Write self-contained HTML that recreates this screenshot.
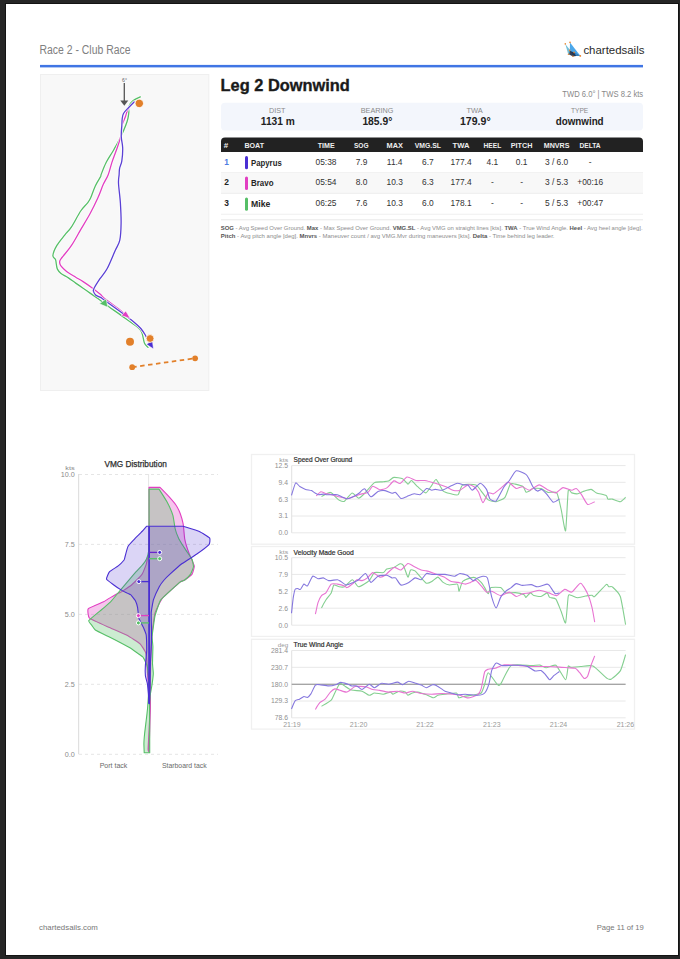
<!DOCTYPE html><html><head><meta charset="utf-8"><title>Race 2 - Club Race</title><style>
*{margin:0;padding:0;box-sizing:border-box}
html,body{width:680px;height:959px;overflow:hidden;background:#262626}
body{position:relative}
.page{position:absolute;left:6px;top:4px;width:672px;height:951px;background:#fff;box-shadow:0 0 0 1px #131313}
svg{position:absolute;left:0;top:0;font-family:"Liberation Sans",sans-serif}
</style></head><body>
<div class="page"></div>
<svg width="680" height="959" viewBox="0 0 680 959">
<text x="39.52" y="53.60" font-size="12" fill="#808080" font-weight="normal" textLength="90.96" lengthAdjust="spacingAndGlyphs">Race 2 - Club Race</text>
<rect x="40" y="64.9" width="603" height="2.5" fill="#4075e4"/>
<text x="583.40" y="53.60" font-size="10" fill="#2a2a2a" font-weight="normal" textLength="61.00" lengthAdjust="spacingAndGlyphs">chartedsails</text>
<g>
<polygon points="565.3,43.9 570.6,50.8 569.6,55 568.3,54.4" fill="#74bfd8"/>
<polygon points="570,42.4 580.5,56 573.5,55.8 569.8,50.5" fill="#4ba7ea"/>
<polygon points="569.8,50.8 574.1,52.4 579.5,55.6 572.9,56.4 569.2,54.5" fill="#1e2b45" opacity="0.9"/>
<polygon points="574.1,52.4 580.5,56 576,55.8" fill="#3a8ed0"/>
<g fill="#e9852f">
<circle cx="565.3" cy="43.9" r="0.8"/><circle cx="570" cy="42.4" r="0.8"/><circle cx="569.7" cy="50.4" r="0.8"/>
<circle cx="574.1" cy="52.4" r="0.8"/><circle cx="568.5" cy="54.2" r="0.8"/><circle cx="572.9" cy="56.2" r="0.8"/><circle cx="580.3" cy="55.9" r="0.9"/>
</g></g>
<rect x="40.5" y="74.5" width="168.3" height="316" fill="#f8f8f8" stroke="#efefef" stroke-width="1"/>
<text x="122.10" y="81.60" font-size="5" fill="#666" font-weight="normal" textLength="4.90" lengthAdjust="spacingAndGlyphs">6°</text>
<line x1="124.3" y1="83" x2="124.3" y2="102" stroke="#555" stroke-width="1.3"/>
<polygon points="120.3,100.5 128.3,100.5 124.3,105.8" fill="#555"/>
<path d="M140.3,96.9 C139.0,97.6 134.3,99.6 132.4,101.2 C130.5,102.8 129.4,104.6 128.8,106.5 C128.2,108.4 129.1,110.2 128.8,112.7 C128.5,115.2 128.4,117.5 127.1,121.5 C125.8,125.5 123.1,131.8 120.9,136.5 C118.7,141.2 116.3,145.3 113.8,149.7 C111.3,154.1 108.0,158.8 105.9,163.0 C103.8,167.2 101.9,172.6 101.0,174.9 C100.1,177.2 101.5,174.8 100.6,176.6 C99.6,178.4 96.9,182.4 95.3,185.9 C93.7,189.4 92.0,194.9 90.7,197.8 C89.4,200.7 89.1,200.9 87.4,203.1 C85.7,205.3 83.4,207.0 80.7,211.0 C78.0,215.0 74.1,222.9 71.5,226.9 C68.9,230.9 67.3,231.7 64.9,234.8 C62.5,237.9 58.9,242.0 56.9,245.4 C54.9,248.8 53.1,253.1 52.9,255.5 C52.7,257.9 54.9,258.2 55.5,259.6 C56.1,261.0 56.0,262.4 56.3,264.0 C56.6,265.6 56.6,267.5 57.4,269.1 C58.2,270.7 59.2,272.0 61.0,273.5 C62.8,275.0 66.0,276.3 68.4,277.9 C70.9,279.5 73.2,281.4 75.7,283.1 C78.2,284.8 80.6,286.5 83.1,288.2 C85.5,289.9 88.0,291.7 90.4,293.4 C92.9,295.1 94.8,296.4 97.8,298.5 C100.8,300.6 104.2,303.4 108.2,306.3 C112.2,309.2 116.6,312.1 121.5,315.6 C126.4,319.1 134.0,324.3 137.4,327.1 C140.8,329.9 140.6,329.8 141.8,332.4 C143.0,335.0 143.4,340.5 144.4,343.0 C145.4,345.5 147.4,346.7 148.0,347.4" fill="none" stroke="#fff" stroke-width="2.6" stroke-linejoin="round" stroke-linecap="round" opacity="0.9"/>
<path d="M140.3,96.9 C139.0,97.6 134.3,99.6 132.4,101.2 C130.5,102.8 129.4,104.6 128.8,106.5 C128.2,108.4 129.1,110.2 128.8,112.7 C128.5,115.2 128.4,117.5 127.1,121.5 C125.8,125.5 123.1,131.8 120.9,136.5 C118.7,141.2 116.3,145.3 113.8,149.7 C111.3,154.1 108.0,158.8 105.9,163.0 C103.8,167.2 101.9,172.6 101.0,174.9 C100.1,177.2 101.5,174.8 100.6,176.6 C99.6,178.4 96.9,182.4 95.3,185.9 C93.7,189.4 92.0,194.9 90.7,197.8 C89.4,200.7 89.1,200.9 87.4,203.1 C85.7,205.3 83.4,207.0 80.7,211.0 C78.0,215.0 74.1,222.9 71.5,226.9 C68.9,230.9 67.3,231.7 64.9,234.8 C62.5,237.9 58.9,242.0 56.9,245.4 C54.9,248.8 53.1,253.1 52.9,255.5 C52.7,257.9 54.9,258.2 55.5,259.6 C56.1,261.0 56.0,262.4 56.3,264.0 C56.6,265.6 56.6,267.5 57.4,269.1 C58.2,270.7 59.2,272.0 61.0,273.5 C62.8,275.0 66.0,276.3 68.4,277.9 C70.9,279.5 73.2,281.4 75.7,283.1 C78.2,284.8 80.6,286.5 83.1,288.2 C85.5,289.9 88.0,291.7 90.4,293.4 C92.9,295.1 94.8,296.4 97.8,298.5 C100.8,300.6 104.2,303.4 108.2,306.3 C112.2,309.2 116.6,312.1 121.5,315.6 C126.4,319.1 134.0,324.3 137.4,327.1 C140.8,329.9 140.6,329.8 141.8,332.4 C143.0,335.0 143.4,340.5 144.4,343.0 C145.4,345.5 147.4,346.7 148.0,347.4" fill="none" stroke="#56bf67" stroke-width="1.3" stroke-linejoin="round" stroke-linecap="round"/>
<path d="M134.1,102.0 C133.1,103.2 129.5,106.6 128.0,109.1 C126.5,111.6 126.3,114.2 125.3,117.0 C124.3,119.8 122.6,122.5 121.8,125.9 C121.0,129.3 121.4,133.4 120.5,137.4 C119.6,141.4 117.9,145.6 116.5,149.7 C115.1,153.8 113.4,157.9 112.0,162.1 C110.6,166.3 109.6,171.2 108.1,174.9 C106.6,178.7 104.9,180.8 103.2,184.6 C101.5,188.4 100.1,193.0 97.9,197.8 C95.7,202.7 92.9,208.4 90.0,213.7 C87.1,219.0 83.8,224.3 80.7,229.6 C77.6,234.9 74.6,240.8 71.5,245.4 C68.4,250.1 64.0,254.9 62.0,257.5 C60.0,260.1 60.1,259.8 59.8,261.0 C59.5,262.2 59.7,263.6 60.2,264.8 C60.7,266.0 61.4,266.7 62.8,268.0 C64.2,269.3 66.2,271.3 68.4,272.8 C70.6,274.3 73.2,275.7 75.7,277.2 C78.2,278.7 80.3,279.8 83.1,281.6 C85.9,283.4 89.8,286.1 92.6,288.2 C95.4,290.3 97.8,292.2 100.0,294.1 C102.2,296.0 102.0,296.5 105.6,299.3 C109.2,302.1 118.1,308.5 121.5,311.2 C124.9,313.9 123.7,313.7 125.9,315.6 C128.1,317.5 132.2,320.6 134.7,322.7 C137.2,324.8 139.1,326.5 140.8,328.5 C142.5,330.5 144.3,333.5 145.0,334.5" fill="none" stroke="#fff" stroke-width="2.6" stroke-linejoin="round" stroke-linecap="round" opacity="0.9"/>
<path d="M134.1,102.0 C133.1,103.2 129.5,106.6 128.0,109.1 C126.5,111.6 126.3,114.2 125.3,117.0 C124.3,119.8 122.6,122.5 121.8,125.9 C121.0,129.3 121.4,133.4 120.5,137.4 C119.6,141.4 117.9,145.6 116.5,149.7 C115.1,153.8 113.4,157.9 112.0,162.1 C110.6,166.3 109.6,171.2 108.1,174.9 C106.6,178.7 104.9,180.8 103.2,184.6 C101.5,188.4 100.1,193.0 97.9,197.8 C95.7,202.7 92.9,208.4 90.0,213.7 C87.1,219.0 83.8,224.3 80.7,229.6 C77.6,234.9 74.6,240.8 71.5,245.4 C68.4,250.1 64.0,254.9 62.0,257.5 C60.0,260.1 60.1,259.8 59.8,261.0 C59.5,262.2 59.7,263.6 60.2,264.8 C60.7,266.0 61.4,266.7 62.8,268.0 C64.2,269.3 66.2,271.3 68.4,272.8 C70.6,274.3 73.2,275.7 75.7,277.2 C78.2,278.7 80.3,279.8 83.1,281.6 C85.9,283.4 89.8,286.1 92.6,288.2 C95.4,290.3 97.8,292.2 100.0,294.1 C102.2,296.0 102.0,296.5 105.6,299.3 C109.2,302.1 118.1,308.5 121.5,311.2 C124.9,313.9 123.7,313.7 125.9,315.6 C128.1,317.5 132.2,320.6 134.7,322.7 C137.2,324.8 139.1,326.5 140.8,328.5 C142.5,330.5 144.3,333.5 145.0,334.5" fill="none" stroke="#e23fc2" stroke-width="1.3" stroke-linejoin="round" stroke-linecap="round"/>
<path d="M134.1,102.0 C133.1,103.0 129.8,106.3 128.0,108.2 C126.2,110.1 124.5,111.7 123.5,113.5 C122.5,115.3 122.5,116.7 122.2,118.8 C121.9,120.9 122.0,122.8 121.8,125.9 C121.6,129.0 121.1,133.7 121.3,137.4 C121.5,141.1 122.6,144.0 122.7,148.0 C122.8,152.0 122.3,157.8 121.8,161.2 C121.3,164.6 120.0,166.0 119.6,168.3 C119.1,170.6 119.3,172.4 119.1,174.9 C118.9,177.4 118.3,178.5 118.5,183.2 C118.7,187.9 120.0,196.5 120.4,203.1 C120.8,209.7 121.2,216.7 121.1,222.9 C121.0,229.1 120.8,235.5 119.8,240.1 C118.8,244.7 117.2,246.0 115.1,250.7 C113.0,255.4 109.7,263.8 107.2,268.5 C104.7,273.2 102.2,275.4 100.0,278.7 C97.8,282.0 95.2,286.1 94.1,288.2 C93.0,290.3 93.2,290.1 93.4,291.2 C93.7,292.3 94.5,293.9 95.6,294.9 C96.7,295.9 98.6,296.3 100.0,297.1 C101.4,297.9 100.2,297.1 103.8,299.7 C107.4,302.3 116.3,308.7 121.5,312.5 C126.7,316.3 131.5,320.0 134.7,322.7 C137.9,325.4 139.0,326.4 140.8,328.5 C142.6,330.6 144.2,333.2 145.3,335.0 C146.4,336.8 147.1,338.8 147.5,339.5" fill="none" stroke="#fff" stroke-width="2.6" stroke-linejoin="round" stroke-linecap="round" opacity="0.9"/>
<path d="M134.1,102.0 C133.1,103.0 129.8,106.3 128.0,108.2 C126.2,110.1 124.5,111.7 123.5,113.5 C122.5,115.3 122.5,116.7 122.2,118.8 C121.9,120.9 122.0,122.8 121.8,125.9 C121.6,129.0 121.1,133.7 121.3,137.4 C121.5,141.1 122.6,144.0 122.7,148.0 C122.8,152.0 122.3,157.8 121.8,161.2 C121.3,164.6 120.0,166.0 119.6,168.3 C119.1,170.6 119.3,172.4 119.1,174.9 C118.9,177.4 118.3,178.5 118.5,183.2 C118.7,187.9 120.0,196.5 120.4,203.1 C120.8,209.7 121.2,216.7 121.1,222.9 C121.0,229.1 120.8,235.5 119.8,240.1 C118.8,244.7 117.2,246.0 115.1,250.7 C113.0,255.4 109.7,263.8 107.2,268.5 C104.7,273.2 102.2,275.4 100.0,278.7 C97.8,282.0 95.2,286.1 94.1,288.2 C93.0,290.3 93.2,290.1 93.4,291.2 C93.7,292.3 94.5,293.9 95.6,294.9 C96.7,295.9 98.6,296.3 100.0,297.1 C101.4,297.9 100.2,297.1 103.8,299.7 C107.4,302.3 116.3,308.7 121.5,312.5 C126.7,316.3 131.5,320.0 134.7,322.7 C137.9,325.4 139.0,326.4 140.8,328.5 C142.6,330.6 144.2,333.2 145.3,335.0 C146.4,336.8 147.1,338.8 147.5,339.5" fill="none" stroke="#5a40d4" stroke-width="1.3" stroke-linejoin="round" stroke-linecap="round"/>
<polygon points="99.4,303.8 106.2,298.8 107.8,307.3" fill="#56bf67" stroke="#fff" stroke-width="0.6"/>
<polygon points="121.4,315.6 125.8,310.9 130.3,318.6" fill="#e23fc2" stroke="#fff" stroke-width="0.6"/>
<polygon points="146.4,344.3 152.4,340.4 153.5,349.0" fill="#4a2fd3" stroke="#fff" stroke-width="0.6"/>
<circle cx="139.3" cy="103.4" r="4.2" fill="#e2802a" stroke="#fff" stroke-width="0.8"/>
<circle cx="150.1" cy="338.5" r="3.9" fill="#e2802a" stroke="#fff" stroke-width="0.8"/>
<circle cx="130" cy="341.8" r="4" fill="#e2802a"/>
<line x1="132.2" y1="367.2" x2="195.1" y2="358.3" stroke="#e2802a" stroke-width="1.8" stroke-dasharray="4.5,3.5"/>
<circle cx="132.2" cy="367.2" r="2.9" fill="#e2802a"/>
<circle cx="195.1" cy="358.3" r="2.9" fill="#e2802a"/>
<text stroke="#1a1a1a" stroke-width="0.35" x="220.54" y="90.60" font-size="16.4" fill="#1a1a1a" font-weight="bold" textLength="129.31" lengthAdjust="spacingAndGlyphs">Leg 2 Downwind</text>
<text x="562.35" y="96.80" font-size="8.8" fill="#888" font-weight="normal" textLength="80.80" lengthAdjust="spacingAndGlyphs">TWD 6.0° | TWS 8.2 kts</text>
<rect x="221" y="102.8" width="422" height="27.6" rx="4" fill="#f3f6fc"/>
<text x="269.10" y="112.60" font-size="7.4" fill="#8a8a8a" font-weight="normal" textLength="16.44" lengthAdjust="spacingAndGlyphs">DIST</text>
<text x="260.84" y="125.20" font-size="10.3" fill="#222" font-weight="bold" textLength="33.97" lengthAdjust="spacingAndGlyphs">1131 m</text>
<text x="360.70" y="112.60" font-size="7.4" fill="#8a8a8a" font-weight="normal" textLength="32.69" lengthAdjust="spacingAndGlyphs">BEARING</text>
<text x="362.39" y="125.20" font-size="10.3" fill="#222" font-weight="bold" textLength="29.92" lengthAdjust="spacingAndGlyphs">185.9°</text>
<text x="466.50" y="112.60" font-size="7.4" fill="#8a8a8a" font-weight="normal" textLength="16.29" lengthAdjust="spacingAndGlyphs">TWA</text>
<text x="459.99" y="125.20" font-size="10.3" fill="#222" font-weight="bold" textLength="30.62" lengthAdjust="spacingAndGlyphs">179.9°</text>
<text x="571.00" y="112.60" font-size="7.4" fill="#8a8a8a" font-weight="normal" textLength="17.29" lengthAdjust="spacingAndGlyphs">TYPE</text>
<text x="555.69" y="125.20" font-size="10.3" fill="#222" font-weight="bold" textLength="47.92" lengthAdjust="spacingAndGlyphs">downwind</text>
<path d="M221,152 L221,141.5 Q221,137.5 225,137.5 L639,137.5 Q643,137.5 643,141.5 L643,152 Z" fill="#222"/>
<text x="223.83" y="147.50" font-size="6.8" fill="#eeeeee" font-weight="bold" textLength="4.44" lengthAdjust="spacingAndGlyphs">#</text>
<text x="244.43" y="147.50" font-size="6.8" fill="#eeeeee" font-weight="bold" textLength="19.64" lengthAdjust="spacingAndGlyphs">BOAT</text>
<text x="317.73" y="147.50" font-size="6.8" fill="#eeeeee" font-weight="bold" textLength="16.94" lengthAdjust="spacingAndGlyphs">TIME</text>
<text x="353.93" y="147.50" font-size="6.8" fill="#eeeeee" font-weight="bold" textLength="14.64" lengthAdjust="spacingAndGlyphs">SOG</text>
<text x="386.53" y="147.50" font-size="6.8" fill="#eeeeee" font-weight="bold" textLength="16.34" lengthAdjust="spacingAndGlyphs">MAX</text>
<text x="414.73" y="147.50" font-size="6.8" fill="#eeeeee" font-weight="bold" textLength="26.24" lengthAdjust="spacingAndGlyphs">VMG.SL</text>
<text x="452.63" y="147.50" font-size="6.8" fill="#eeeeee" font-weight="bold" textLength="16.94" lengthAdjust="spacingAndGlyphs">TWA</text>
<text x="483.53" y="147.50" font-size="6.8" fill="#eeeeee" font-weight="bold" textLength="17.74" lengthAdjust="spacingAndGlyphs">HEEL</text>
<text x="510.73" y="147.50" font-size="6.8" fill="#eeeeee" font-weight="bold" textLength="21.74" lengthAdjust="spacingAndGlyphs">PITCH</text>
<text x="543.73" y="147.50" font-size="6.8" fill="#eeeeee" font-weight="bold" textLength="25.74" lengthAdjust="spacingAndGlyphs">MNVRS</text>
<text x="579.53" y="147.50" font-size="6.8" fill="#eeeeee" font-weight="bold" textLength="21.14" lengthAdjust="spacingAndGlyphs">DELTA</text>
<rect x="221" y="172.2" width="422" height="0.8" fill="#ececec"/>
<text x="224.3" y="164.5" font-size="8.4" fill="#4d7de3" font-weight="bold">1</text>
<rect x="245" y="155.9" width="3" height="13.3" rx="1.5" fill="#4a2fd3"/>
<text x="251.06" y="165.50" font-size="8.4" fill="#262626" font-weight="bold" textLength="30.67" lengthAdjust="spacingAndGlyphs">Papyrus</text>
<text x="326" y="164.5" font-size="8.4" fill="#333" text-anchor="middle">05:38</text>
<text x="361.5" y="164.5" font-size="8.4" fill="#333" text-anchor="middle">7.9</text>
<text x="394.7" y="164.5" font-size="8.4" fill="#333" text-anchor="middle">11.4</text>
<text x="427.9" y="164.5" font-size="8.4" fill="#333" text-anchor="middle">6.7</text>
<text x="461.1" y="164.5" font-size="8.4" fill="#333" text-anchor="middle">177.4</text>
<text x="492.4" y="164.5" font-size="8.4" fill="#333" text-anchor="middle">4.1</text>
<text x="521.6" y="164.5" font-size="8.4" fill="#333" text-anchor="middle">0.1</text>
<text x="556.6" y="164.5" font-size="8.4" fill="#333" text-anchor="middle">3 / 6.0</text>
<text x="590.2" y="164.5" font-size="8.4" fill="#333" text-anchor="middle">-</text>
<rect x="221" y="172.7" width="422" height="20.9" fill="#f8f8f8"/>
<rect x="221" y="192.9" width="422" height="0.8" fill="#ececec"/>
<text x="224.3" y="184.9" font-size="8.4" fill="#222" font-weight="bold">2</text>
<rect x="245" y="176.6" width="3" height="13.3" rx="1.5" fill="#e23fc2"/>
<text x="251.06" y="185.90" font-size="8.4" fill="#262626" font-weight="bold" textLength="22.47" lengthAdjust="spacingAndGlyphs">Bravo</text>
<text x="326" y="184.9" font-size="8.4" fill="#333" text-anchor="middle">05:54</text>
<text x="361.5" y="184.9" font-size="8.4" fill="#333" text-anchor="middle">8.0</text>
<text x="394.7" y="184.9" font-size="8.4" fill="#333" text-anchor="middle">10.3</text>
<text x="427.9" y="184.9" font-size="8.4" fill="#333" text-anchor="middle">6.3</text>
<text x="461.1" y="184.9" font-size="8.4" fill="#333" text-anchor="middle">177.4</text>
<text x="492.4" y="184.9" font-size="8.4" fill="#333" text-anchor="middle">-</text>
<text x="521.6" y="184.9" font-size="8.4" fill="#333" text-anchor="middle">-</text>
<text x="556.6" y="184.9" font-size="8.4" fill="#333" text-anchor="middle">3 / 5.3</text>
<text x="590.2" y="184.9" font-size="8.4" fill="#333" text-anchor="middle">+00:16</text>
<rect x="221" y="213.8" width="422" height="0.8" fill="#ececec"/>
<text x="224.3" y="205.9" font-size="8.4" fill="#222" font-weight="bold">3</text>
<rect x="245" y="197.5" width="3" height="13.3" rx="1.5" fill="#56bf67"/>
<text x="251.06" y="206.90" font-size="8.4" fill="#262626" font-weight="bold" textLength="19.27" lengthAdjust="spacingAndGlyphs">Mike</text>
<text x="326" y="205.9" font-size="8.4" fill="#333" text-anchor="middle">06:25</text>
<text x="361.5" y="205.9" font-size="8.4" fill="#333" text-anchor="middle">7.6</text>
<text x="394.7" y="205.9" font-size="8.4" fill="#333" text-anchor="middle">10.3</text>
<text x="427.9" y="205.9" font-size="8.4" fill="#333" text-anchor="middle">6.0</text>
<text x="461.1" y="205.9" font-size="8.4" fill="#333" text-anchor="middle">178.1</text>
<text x="492.4" y="205.9" font-size="8.4" fill="#333" text-anchor="middle">-</text>
<text x="521.6" y="205.9" font-size="8.4" fill="#333" text-anchor="middle">-</text>
<text x="556.6" y="205.9" font-size="8.4" fill="#333" text-anchor="middle">5 / 5.3</text>
<text x="590.2" y="205.9" font-size="8.4" fill="#333" text-anchor="middle">+00:47</text>
<rect x="221" y="219.3" width="422" height="1" fill="#e8e8e8"/>
<text x="220.76" y="229.50" font-size="6.1" fill="#8c8c8c" font-weight="normal" textLength="421.79" lengthAdjust="spacingAndGlyphs"><tspan font-weight="bold" fill="#555">SOG</tspan> - Avg Speed Over Ground. <tspan font-weight="bold" fill="#555">Max</tspan> - Max Speed Over Ground. <tspan font-weight="bold" fill="#555">VMG.SL</tspan> - Avg VMG on straight lines [kts]. <tspan font-weight="bold" fill="#555">TWA</tspan> - True Wind Angle. <tspan font-weight="bold" fill="#555">Heel</tspan> - Avg heel angle [deg].</text>
<text x="220.76" y="237.60" font-size="6.1" fill="#8c8c8c" font-weight="normal" textLength="333.79" lengthAdjust="spacingAndGlyphs"><tspan font-weight="bold" fill="#555">Pitch</tspan> - Avg pitch angle [deg]. <tspan font-weight="bold" fill="#555">Mnvrs</tspan> - Maneuver count / avg VMG.Mvr during maneuvers [kts]. <tspan font-weight="bold" fill="#555">Delta</tspan> - Time behind leg leader.</text>
<text stroke="#2e2e2e" stroke-width="0.25" x="104.46" y="467.00" font-size="8.5" fill="#2e2e2e" font-weight="normal" textLength="62.38" lengthAdjust="spacingAndGlyphs">VMG Distribution</text>
<text x="65.37" y="469.60" font-size="5.8" fill="#888" font-weight="normal" textLength="9.46" lengthAdjust="spacingAndGlyphs">kts</text>
<line x1="79" y1="754.3" x2="218" y2="754.3" stroke="#e2e2e2" stroke-width="0.9" stroke-dasharray="3,3"/>
<text x="74.8" y="756.8" font-size="7.2" fill="#8a8a8a" text-anchor="end">0.0</text>
<line x1="79" y1="684.3" x2="218" y2="684.3" stroke="#e2e2e2" stroke-width="0.9" stroke-dasharray="3,3"/>
<text x="74.8" y="686.8" font-size="7.2" fill="#8a8a8a" text-anchor="end">2.5</text>
<line x1="79" y1="614.4" x2="218" y2="614.4" stroke="#e2e2e2" stroke-width="0.9" stroke-dasharray="3,3"/>
<text x="74.8" y="616.9" font-size="7.2" fill="#8a8a8a" text-anchor="end">5.0</text>
<line x1="79" y1="544.4" x2="218" y2="544.4" stroke="#e2e2e2" stroke-width="0.9" stroke-dasharray="3,3"/>
<text x="74.8" y="546.9" font-size="7.2" fill="#8a8a8a" text-anchor="end">7.5</text>
<line x1="79" y1="474.5" x2="218" y2="474.5" stroke="#e2e2e2" stroke-width="0.9" stroke-dasharray="3,3"/>
<text x="74.8" y="477.0" font-size="7.2" fill="#8a8a8a" text-anchor="end">10.0</text>
<line x1="78.6" y1="474" x2="78.6" y2="754.3" stroke="#e0e0e0" stroke-width="1.2"/>
<line x1="148.6" y1="474" x2="148.6" y2="488" stroke="#ddd" stroke-width="0.8"/>
<text x="99.71" y="767.60" font-size="7.2" fill="#6a6a6a" font-weight="normal" textLength="27.58" lengthAdjust="spacingAndGlyphs">Port tack</text>
<text x="161.91" y="767.60" font-size="7.2" fill="#6a6a6a" font-weight="normal" textLength="44.78" lengthAdjust="spacingAndGlyphs">Starboard tack</text>
<path d="M149.0,752.0 C148.9,751.8 148.0,751.3 148.1,748.8 C148.2,746.2 150.0,712.8 150.0,709.0 C150.0,705.2 148.4,686.3 148.3,684.2 C148.2,682.1 147.6,674.7 147.5,673.3 C147.4,671.9 146.8,661.2 146.7,660.0 C146.6,658.8 145.8,652.9 145.4,652.0 C145.0,651.1 141.1,644.7 140.0,643.8 C138.9,642.8 128.8,636.2 127.0,635.3 C125.2,634.4 111.6,628.6 109.4,627.6 C107.2,626.6 90.6,619.3 89.4,618.2 C88.2,617.1 87.4,609.8 88.2,608.8 C89.0,607.8 101.9,602.6 103.5,601.8 C105.1,601.0 114.2,595.3 115.3,594.7 C116.4,594.1 121.5,591.8 122.4,591.2 C123.3,590.6 130.4,586.0 131.5,585.0 C132.6,584.0 140.9,575.9 141.8,574.7 C142.7,573.5 145.8,565.5 146.2,564.4 C146.6,563.3 147.7,557.2 147.9,556.5 C148.1,555.8 148.9,556.0 149.0,552.0 C149.1,548.0 149.0,491.2 149.0,487.4 L160.0,487.4 C160.5,487.9 167.6,495.2 168.5,496.2 C169.4,497.2 175.2,504.0 175.9,505.0 C176.6,506.0 179.9,512.7 180.3,513.8 C180.7,514.9 182.9,522.6 183.2,524.1 C183.5,525.6 184.4,537.1 184.7,538.8 C185.0,540.5 188.5,551.9 189.1,553.5 C189.7,555.1 194.1,564.8 194.3,566.0 C194.5,567.2 192.7,573.3 192.1,574.1 C191.5,574.9 185.4,579.5 184.7,580.0 C184.0,580.5 181.3,581.0 180.0,582.1 C178.7,583.2 163.9,596.4 162.4,598.2 C160.9,600.0 155.6,610.8 155.0,612.9 C154.4,615.0 152.3,630.8 152.1,633.5 C151.9,636.2 150.9,656.0 150.8,659.2 C150.7,662.4 150.4,685.4 150.4,688.3 C150.4,691.2 150.5,705.3 150.4,709.0 C150.3,712.7 149.1,749.5 149.0,752.0 Z" fill="rgba(226,63,194,0.3)" stroke="#e23fc2" stroke-width="1.1" stroke-linejoin="round"/>
<path d="M149.7,752.8 L144.2,752.8 C144.2,752.3 143.9,745.1 143.9,744.0 C143.9,742.9 144.4,735.8 144.6,733.8 C144.8,731.7 147.3,711.7 147.5,709.0 C147.7,706.3 148.8,690.7 148.8,688.3 C148.8,685.9 147.7,669.0 147.5,667.5 C147.3,666.0 146.1,663.1 145.8,662.5 C145.5,661.9 143.5,657.6 142.5,656.7 C141.5,655.8 131.3,648.7 129.4,647.6 C127.5,646.5 111.4,638.0 109.4,637.0 C107.4,636.0 96.3,630.7 95.3,630.0 C94.3,629.3 92.2,625.8 91.8,625.3 C91.4,624.8 88.3,621.5 88.8,620.6 C89.3,619.7 99.9,611.1 101.2,610.0 C102.5,608.9 109.5,602.9 110.6,601.8 C111.7,600.7 118.5,592.4 120.0,590.6 C121.5,588.9 134.6,573.2 135.9,571.8 C137.2,570.4 140.9,566.7 141.5,566.0 C142.1,565.3 146.1,559.9 146.5,559.0 C146.9,558.1 148.6,551.7 148.7,550.6 C148.8,549.5 149.0,543.6 149.0,540.0 C149.0,536.4 149.0,492.1 149.0,489.1 L159.0,489.1 C159.5,489.9 166.3,500.5 167.1,502.0 C167.9,503.5 172.4,513.8 172.9,515.3 C173.4,516.8 174.8,527.1 175.1,528.5 C175.4,529.9 178.2,537.5 178.8,538.8 C179.4,540.1 185.4,549.4 186.2,550.6 C187.0,551.8 191.7,558.5 192.1,559.4 C192.5,560.3 193.6,565.9 193.5,566.8 C193.4,567.7 191.1,573.3 190.6,574.1 C190.1,574.9 185.3,579.5 184.7,580.0 C184.1,580.5 181.4,581.0 180.0,582.1 C178.6,583.2 162.4,597.7 160.9,599.7 C159.4,601.7 155.5,613.8 155.0,615.9 C154.5,618.0 152.2,634.7 152.1,636.5 C152.0,638.3 152.9,645.1 152.9,646.7 C152.9,648.3 152.5,661.7 152.5,663.3 C152.5,664.9 153.3,672.1 153.3,673.3 C153.3,674.5 152.3,682.8 152.1,684.2 C151.9,685.6 150.1,695.3 150.0,696.7 C149.9,698.1 149.6,707.1 149.6,709.0 C149.6,710.9 149.7,727.4 149.7,730.0 C149.7,732.6 149.7,751.5 149.7,752.8 Z" fill="rgba(86,191,103,0.3)" stroke="#56bf67" stroke-width="1.1" stroke-linejoin="round"/>
<path d="M149.2,703.8 C149.1,702.6 147.7,685.8 147.5,684.2 C147.3,682.6 145.5,676.9 145.4,675.8 C145.3,674.7 145.3,666.5 145.4,665.0 C145.5,663.5 146.7,652.5 146.7,650.8 C146.7,649.0 146.4,636.4 146.2,635.0 C146.1,633.6 143.9,628.6 143.5,627.6 C143.1,626.6 139.1,619.4 138.8,618.2 C138.5,617.0 137.8,608.6 137.6,607.6 C137.4,606.6 135.7,601.4 135.3,600.6 C134.9,599.8 131.3,595.3 130.6,594.7 C129.9,594.1 123.6,591.5 122.6,590.9 C121.6,590.3 114.7,585.7 113.8,585.0 C112.9,584.3 106.8,579.9 106.5,579.1 C106.2,578.3 108.7,572.6 109.4,571.8 C110.1,571.0 117.3,566.6 118.2,565.9 C119.1,565.2 123.7,560.5 124.1,560.0 C124.5,559.5 124.9,557.3 125.1,556.5 C125.3,555.7 127.5,547.2 128.1,546.2 C128.7,545.2 133.9,539.7 134.7,538.8 C135.5,537.9 141.3,532.2 142.0,531.5 C142.7,530.8 146.2,526.6 146.5,526.3 L149.0,526.3 L183.2,526.3 C184.1,526.6 197.9,530.8 199.4,531.5 C200.9,532.2 209.1,537.3 209.7,538.1 C210.3,538.9 209.8,543.8 209.0,544.7 C208.2,545.6 198.1,553.2 196.5,554.3 C194.9,555.4 183.3,562.6 181.8,563.8 C180.3,565.0 171.0,573.2 170.0,574.1 C169.0,575.0 164.7,579.3 164.1,580.0 C163.5,580.7 160.0,585.4 159.4,586.5 C158.8,587.6 154.0,598.2 153.5,599.7 C153.0,601.2 151.3,611.1 151.2,612.9 C151.1,614.7 151.5,628.0 151.5,630.0 C151.5,632.0 151.3,644.8 151.2,646.7 C151.2,648.6 150.5,660.9 150.4,663.3 C150.3,665.7 150.1,685.9 150.0,688.3 C149.9,690.7 149.4,702.8 149.4,703.8 Z" fill="rgba(74,47,211,0.2)" stroke="#4a2fd3" stroke-width="1.1" stroke-linejoin="round"/>
<line x1="149.1" y1="526.3" x2="149.1" y2="703.75" stroke="#4a2fd3" stroke-width="1.8"/>
<line x1="149" y1="552.4" x2="159.7" y2="552.4" stroke="#6a26cc" stroke-width="1.3"/>
<circle cx="159.7" cy="552.4" r="2.0" fill="#4a2fd3" stroke="#fff" stroke-width="1.0"/>
<line x1="149" y1="558.7" x2="159.7" y2="558.7" stroke="#56bf67" stroke-width="1.3"/>
<circle cx="159.7" cy="558.7" r="2.0" fill="#56bf67" stroke="#fff" stroke-width="1.0"/>
<line x1="149" y1="581.6" x2="138.8" y2="581.6" stroke="#4a2fd3" stroke-width="1.3"/>
<circle cx="138.8" cy="581.6" r="2.0" fill="#4a2fd3" stroke="#fff" stroke-width="1.0"/>
<line x1="149" y1="615.6" x2="138.4" y2="615.6" stroke="#e23fc2" stroke-width="1.3"/>
<circle cx="138.4" cy="615.6" r="2.0" fill="#e23fc2" stroke="#fff" stroke-width="1.0"/>
<line x1="149" y1="622.9" x2="138.4" y2="622.9" stroke="#56bf67" stroke-width="1.3"/>
<circle cx="138.4" cy="622.9" r="2.0" fill="#56bf67" stroke="#fff" stroke-width="1.0"/>
<rect x="251.5" y="454.5" width="383" height="89.7" fill="none" stroke="#f0f0f0" stroke-width="1.3"/>
<line x1="291.7" y1="465.6" x2="625.6" y2="465.6" stroke="#e8e8e8" stroke-width="1"/>
<text x="288" y="468.0" font-size="6.8" fill="#8f8f8f" text-anchor="end">12.5</text>
<line x1="291.7" y1="482.3" x2="625.6" y2="482.3" stroke="#e8e8e8" stroke-width="1"/>
<text x="288" y="484.7" font-size="6.8" fill="#8f8f8f" text-anchor="end">9.4</text>
<line x1="291.7" y1="499.1" x2="625.6" y2="499.1" stroke="#e8e8e8" stroke-width="1"/>
<text x="288" y="501.5" font-size="6.8" fill="#8f8f8f" text-anchor="end">6.3</text>
<line x1="291.7" y1="516" x2="625.6" y2="516" stroke="#e8e8e8" stroke-width="1"/>
<text x="288" y="518.4" font-size="6.8" fill="#8f8f8f" text-anchor="end">3.1</text>
<line x1="291.7" y1="532.8" x2="625.6" y2="532.8" stroke="#e8e8e8" stroke-width="1"/>
<text x="288" y="535.2" font-size="6.8" fill="#8f8f8f" text-anchor="end">0.0</text>
<line x1="291.7" y1="465.6" x2="291.7" y2="532.8" stroke="#e0e0e0" stroke-width="1"/>
<text x="279.26" y="462.00" font-size="6" fill="#999" font-weight="normal" textLength="8.98" lengthAdjust="spacingAndGlyphs">kts</text>
<text stroke="#2e2e2e" stroke-width="0.2" x="293.62" y="461.60" font-size="7.1" fill="#2e2e2e" font-weight="normal" textLength="58.67" lengthAdjust="spacingAndGlyphs">Speed Over Ground</text>
<path d="M321.5,496.5 C322.4,496.1 329.0,492.3 330.4,492.4 C331.8,492.4 334.7,496.2 335.6,497.0 C336.5,497.8 338.9,500.2 339.8,500.6 C340.7,501.0 343.3,502.0 344.5,501.2 C345.7,500.4 350.7,493.3 352.1,493.0 C353.5,492.7 357.4,498.1 358.6,498.2 C359.8,498.2 362.9,495.1 364.5,493.5 C366.1,491.9 372.6,483.8 374.5,482.6 C376.4,481.4 381.9,482.0 383.3,481.8 C384.7,481.6 387.5,481.3 388.6,480.9 C389.7,480.5 392.5,477.6 393.9,477.4 C395.3,477.2 401.2,478.1 402.6,478.8 C404.0,479.5 407.0,483.9 407.9,484.1 C408.8,484.3 410.5,480.2 411.5,480.5 C412.5,480.8 416.2,485.5 417.6,486.7 C419.0,487.9 424.3,492.9 425.6,492.9 C426.9,492.9 429.8,488.0 430.9,486.7 C432.0,485.4 435.0,479.2 436.2,479.6 C437.4,480.0 441.7,489.7 443.2,491.1 C444.7,492.5 449.7,493.4 451.2,493.8 C452.7,494.2 457.1,495.5 458.2,494.6 C459.3,493.7 460.8,485.9 462.6,484.9 C464.4,483.9 474.0,484.3 475.9,484.9 C477.8,485.5 480.0,489.6 481.2,491.1 C482.4,492.6 486.7,498.8 488.2,499.9 C489.7,501.0 494.5,502.0 496.2,501.7 C497.9,501.4 503.6,499.1 505.0,497.3 C506.4,495.5 509.3,485.4 510.3,484.1 C511.3,482.8 514.0,483.8 515.3,484.1 C516.6,484.4 522.1,485.9 523.2,486.7 C524.3,487.5 525.3,491.6 525.9,492.0 C526.5,492.4 528.7,491.5 529.4,491.1 C530.1,490.8 531.8,488.8 532.9,488.5 C534.0,488.2 539.4,488.1 540.9,488.5 C542.4,488.9 546.3,492.0 547.9,492.4 C549.5,492.8 555.5,491.2 556.8,492.9 C558.1,494.6 560.3,505.8 561.2,509.6 C562.1,513.4 564.9,532.6 565.6,530.8 C566.3,528.9 567.6,494.9 568.2,491.1 C568.8,487.3 570.8,492.6 571.8,492.9 C572.8,493.2 576.7,494.0 577.9,493.8 C579.1,493.6 582.8,491.5 584.1,491.1 C585.4,490.7 590.0,489.2 591.2,489.4 C592.4,489.6 595.0,492.3 596.5,492.9 C598.0,493.5 605.1,494.9 606.2,495.5 C607.3,496.1 607.3,498.7 607.9,499.1 C608.5,499.5 611.2,498.8 612.4,499.1 C613.6,499.4 619.0,501.9 620.3,501.7 C621.6,501.5 625.1,497.7 625.6,497.3" fill="none" stroke="#84cf90" stroke-width="1.1" stroke-linejoin="round"/>
<path d="M316.2,495.9 C316.7,495.5 320.0,492.0 320.9,491.8 C321.8,491.6 324.5,493.2 325.6,493.5 C326.7,493.8 330.3,494.4 331.5,494.7 C332.7,495.0 336.2,496.2 337.4,496.5 C338.6,496.8 342.4,497.4 343.3,497.6 C344.2,497.8 345.7,498.9 346.8,498.8 C347.9,498.7 352.5,497.0 353.9,496.5 C355.3,496.0 359.6,494.5 361.0,494.1 C362.4,493.7 366.8,493.2 368.0,492.4 C369.2,491.6 371.5,486.5 372.7,486.2 C373.9,485.9 378.4,489.5 379.8,489.7 C381.2,489.9 385.4,488.8 386.8,487.9 C388.2,487.0 392.6,481.3 393.9,480.9 C395.2,480.5 398.8,483.9 400.1,483.5 C401.4,483.1 405.5,477.3 407.1,477.0 C408.7,476.7 414.1,480.1 415.9,480.5 C417.7,480.9 422.8,480.2 424.7,480.5 C426.6,480.8 433.2,482.6 435.3,483.2 C437.4,483.8 444.1,486.0 445.9,486.7 C447.7,487.4 451.5,489.8 452.9,490.2 C454.3,490.6 458.5,490.7 460.0,490.2 C461.5,489.7 466.5,485.2 467.9,484.9 C469.3,484.5 473.0,486.0 474.1,486.7 C475.2,487.4 477.6,490.4 478.5,492.0 C479.4,493.6 481.9,502.5 482.9,502.6 C483.9,502.7 487.1,493.8 488.2,492.9 C489.3,492.0 492.3,494.2 493.5,493.8 C494.7,493.4 499.2,489.6 500.6,488.5 C502.0,487.4 506.7,482.8 507.6,482.3 C508.5,481.8 509.1,482.6 510.0,483.2 C510.9,483.8 515.0,488.1 516.2,488.5 C517.4,488.9 521.1,486.5 522.4,486.7 C523.7,486.9 527.7,490.4 529.4,490.2 C531.1,490.0 537.3,485.0 539.1,484.9 C540.9,484.8 545.4,488.6 547.1,489.4 C548.8,490.2 554.3,493.1 555.9,492.9 C557.5,492.7 561.3,487.9 562.9,487.6 C564.5,487.3 570.5,490.1 571.8,490.2 C573.1,490.3 575.2,488.1 576.2,488.5 C577.2,488.9 580.4,493.0 581.5,494.6 C582.6,496.2 586.3,503.7 587.6,504.4 C588.9,505.1 594.0,502.0 594.7,501.7" fill="none" stroke="#e874d2" stroke-width="1.1" stroke-linejoin="round"/>
<path d="M291.5,495.3 C291.9,494.1 294.8,483.9 295.6,483.0 C296.4,482.1 298.8,485.9 299.8,486.5 C300.8,487.1 304.4,489.0 305.6,489.4 C306.8,489.8 310.6,490.2 311.5,490.6 C312.4,491.0 314.3,492.6 315.0,493.0 C315.7,493.4 317.8,494.6 318.6,494.7 C319.4,494.8 322.5,494.1 323.3,494.1 C324.1,494.1 326.0,494.6 326.8,494.7 C327.6,494.8 330.4,494.7 331.5,494.7 C332.6,494.7 336.3,494.5 337.4,494.7 C338.5,494.9 341.2,496.6 342.1,497.0 C343.0,497.4 345.9,498.7 346.8,498.8 C347.7,498.9 350.3,498.1 351.5,497.6 C352.7,497.1 357.3,494.4 358.6,493.5 C359.9,492.6 363.3,488.5 364.5,488.8 C365.7,489.1 369.5,496.5 370.9,496.8 C372.2,497.1 376.6,492.1 378.0,491.5 C379.4,490.9 383.7,490.4 385.1,490.6 C386.5,490.8 391.1,493.0 392.1,493.2 C393.2,493.4 394.7,491.9 395.6,492.4 C396.5,492.9 399.8,498.1 400.9,498.5 C402.0,498.9 405.8,496.9 407.1,496.4 C408.4,495.9 412.8,494.0 414.1,493.8 C415.4,493.6 419.1,495.1 420.3,494.6 C421.5,494.1 425.4,488.9 426.5,488.5 C427.6,488.1 430.9,490.1 431.8,490.2 C432.7,490.3 434.2,489.4 435.3,489.4 C436.4,489.4 441.0,490.5 442.4,490.2 C443.8,489.9 447.9,487.4 449.4,486.7 C450.9,486.0 456.0,483.4 457.4,483.2 C458.8,483.0 462.4,484.7 463.5,484.9 C464.6,485.1 467.0,484.4 467.9,484.9 C468.8,485.4 471.1,490.4 472.3,490.2 C473.5,490.0 478.9,483.3 480.3,483.2 C481.7,483.1 485.5,487.8 486.5,489.4 C487.5,491.0 489.0,497.9 490.0,499.0 C491.0,500.1 494.8,502.0 496.2,500.8 C497.6,499.6 502.8,488.7 504.1,486.7 C505.4,484.7 508.2,482.1 509.4,480.5 C510.6,478.9 514.6,471.4 516.2,470.8 C517.9,470.2 524.6,473.5 525.9,474.4 C527.2,475.3 528.7,478.4 529.4,479.6 C530.1,480.8 532.1,485.6 532.9,486.7 C533.7,487.8 536.5,490.8 537.4,491.1 C538.3,491.4 540.8,489.0 541.8,489.4 C542.8,489.8 546.0,493.3 547.1,494.6 C548.2,495.9 552.0,501.8 553.2,502.2 C554.4,502.6 558.8,499.4 559.4,499.1" fill="none" stroke="#8577de" stroke-width="1.1" stroke-linejoin="round"/>
<rect x="251.5" y="546.5" width="383" height="89.9" fill="none" stroke="#f0f0f0" stroke-width="1.3"/>
<line x1="291.7" y1="557.7" x2="625.6" y2="557.7" stroke="#e8e8e8" stroke-width="1"/>
<text x="288" y="560.1" font-size="6.8" fill="#8f8f8f" text-anchor="end">10.5</text>
<line x1="291.7" y1="574.4" x2="625.6" y2="574.4" stroke="#e8e8e8" stroke-width="1"/>
<text x="288" y="576.8" font-size="6.8" fill="#8f8f8f" text-anchor="end">7.9</text>
<line x1="291.7" y1="591.3" x2="625.6" y2="591.3" stroke="#e8e8e8" stroke-width="1"/>
<text x="288" y="593.7" font-size="6.8" fill="#8f8f8f" text-anchor="end">5.2</text>
<line x1="291.7" y1="608.2" x2="625.6" y2="608.2" stroke="#e8e8e8" stroke-width="1"/>
<text x="288" y="610.6" font-size="6.8" fill="#8f8f8f" text-anchor="end">2.6</text>
<line x1="291.7" y1="625.2" x2="625.6" y2="625.2" stroke="#e8e8e8" stroke-width="1"/>
<text x="288" y="627.6" font-size="6.8" fill="#8f8f8f" text-anchor="end">0.0</text>
<line x1="291.7" y1="557.7" x2="291.7" y2="625.2" stroke="#e0e0e0" stroke-width="1"/>
<text x="279.26" y="554.10" font-size="6" fill="#999" font-weight="normal" textLength="8.98" lengthAdjust="spacingAndGlyphs">kts</text>
<text stroke="#2e2e2e" stroke-width="0.2" x="293.62" y="554.60" font-size="7.1" fill="#2e2e2e" font-weight="normal" textLength="60.17" lengthAdjust="spacingAndGlyphs">Velocity Made Good</text>
<path d="M321.5,607.9 C321.9,607.1 324.9,601.5 325.9,600.0 C326.9,598.5 330.4,594.4 331.2,592.9 C332.0,591.4 333.1,585.6 333.9,585.0 C334.7,584.4 338.1,586.6 339.2,586.8 C340.3,587.0 343.2,587.5 344.5,586.8 C345.8,586.1 351.0,579.7 352.4,579.7 C353.8,579.7 356.9,586.7 358.6,586.8 C360.3,586.9 367.6,582.0 369.2,580.6 C370.8,579.2 373.1,573.4 374.5,572.6 C375.9,571.8 382.1,573.0 383.3,572.6 C384.5,572.2 385.7,569.6 386.8,569.1 C387.9,568.6 392.6,567.9 393.9,567.4 C395.2,566.9 399.1,564.0 400.1,563.8 C401.1,563.6 402.7,564.3 403.5,565.6 C404.3,566.9 407.2,576.7 407.9,577.1 C408.6,577.5 409.9,570.6 410.6,570.0 C411.3,569.4 413.9,570.1 415.0,570.9 C416.1,571.7 420.1,576.7 421.2,577.9 C422.3,579.1 425.4,582.8 426.5,583.2 C427.6,583.6 430.7,582.1 431.8,581.5 C432.9,580.9 436.8,577.0 437.9,577.1 C439.0,577.2 442.1,581.6 443.2,582.4 C444.3,583.2 448.0,584.8 449.4,585.0 C450.8,585.2 456.4,583.5 457.4,584.1 C458.4,584.7 458.6,591.5 459.1,591.2 C459.6,590.9 461.5,582.8 462.6,581.5 C463.8,580.2 469.3,578.3 470.6,577.9 C471.9,577.5 474.8,577.4 475.9,577.9 C477.0,578.4 480.3,581.4 481.2,582.4 C482.1,583.4 484.0,586.5 484.7,587.6 C485.4,588.7 487.6,593.8 488.2,593.8 C488.8,593.8 489.7,588.2 490.9,587.6 C492.1,587.0 499.1,587.1 500.6,587.6 C502.1,588.1 504.4,592.4 505.9,592.9 C507.4,593.4 513.5,592.4 515.3,592.6 C517.1,592.8 523.0,594.2 524.1,594.7 C525.2,595.2 525.3,597.6 525.9,597.4 C526.5,597.2 529.5,593.1 530.3,592.9 C531.1,592.7 532.7,595.2 533.8,595.6 C534.9,596.0 539.6,596.8 540.9,596.5 C542.2,596.2 546.2,592.8 547.1,592.9 C548.0,593.0 548.8,596.8 549.7,597.4 C550.6,598.0 554.8,597.7 555.9,599.1 C557.0,600.5 560.2,609.1 561.2,611.5 C562.2,613.9 564.9,624.4 565.6,622.9 C566.3,621.4 567.7,599.3 568.2,596.5 C568.7,593.7 569.9,595.1 570.9,595.2 C571.9,595.3 576.2,597.7 577.9,597.7 C579.6,597.7 586.2,595.9 587.6,595.6 C589.0,595.4 591.4,595.1 592.1,595.2 C592.8,595.3 593.3,597.6 594.7,596.5 C596.1,595.4 604.8,585.6 606.2,584.6 C607.6,583.6 608.2,586.6 608.8,586.8 C609.4,587.0 611.1,585.8 612.3,586.8 C613.4,587.8 619.0,592.7 620.3,596.5 C621.6,600.3 625.1,621.9 625.6,624.7" fill="none" stroke="#84cf90" stroke-width="1.1" stroke-linejoin="round"/>
<path d="M315.4,614.1 C315.7,613.0 317.4,604.5 318.0,602.6 C318.6,600.8 320.7,596.6 321.5,595.6 C322.3,594.6 324.9,594.0 325.9,592.9 C326.9,591.8 330.1,585.0 331.2,584.1 C332.3,583.2 336.1,583.9 337.4,584.1 C338.7,584.3 343.5,585.5 344.5,585.9 C345.5,586.2 346.2,587.9 347.1,587.6 C348.0,587.3 352.3,584.0 353.3,583.2 C354.3,582.4 355.9,580.0 356.8,579.7 C357.7,579.4 361.0,580.8 362.1,580.6 C363.2,580.4 366.3,578.7 367.4,577.9 C368.5,577.1 371.5,572.7 372.7,572.6 C373.9,572.5 378.6,576.8 379.8,577.1 C381.0,577.4 383.7,576.3 385.1,575.3 C386.5,574.3 392.3,567.9 393.9,567.4 C395.5,566.9 399.5,570.4 400.9,570.0 C402.3,569.6 406.6,563.9 407.9,563.5 C409.2,563.1 412.8,565.9 414.1,566.5 C415.4,567.1 420.0,569.6 421.2,570.0 C422.4,570.4 424.9,570.5 426.5,570.9 C428.1,571.3 435.3,573.8 437.1,574.4 C438.9,575.0 442.7,576.4 444.1,577.1 C445.5,577.8 449.8,581.0 451.2,581.5 C452.6,582.0 456.8,582.1 458.2,582.4 C459.6,582.7 464.1,584.1 465.3,584.1 C466.5,584.1 469.5,582.8 470.6,582.4 C471.7,582.0 474.8,580.2 475.9,580.6 C477.0,581.0 480.1,584.8 481.2,585.9 C482.3,587.0 485.4,591.6 486.5,592.1 C487.6,592.6 490.4,590.9 491.8,591.2 C493.2,591.6 498.8,595.5 500.6,595.6 C502.4,595.7 507.8,592.0 509.4,592.1 C511.0,592.2 514.9,596.3 516.2,596.5 C517.5,596.7 521.1,594.2 522.4,593.8 C523.7,593.4 527.7,593.2 529.4,592.9 C531.1,592.5 537.2,590.3 539.1,590.3 C541.0,590.3 547.0,592.4 548.8,592.9 C550.6,593.4 555.2,596.0 556.8,595.6 C558.4,595.2 563.2,589.8 564.7,589.4 C566.2,589.0 570.2,592.7 571.8,592.1 C573.4,591.5 579.0,583.0 580.6,583.2 C582.2,583.4 586.5,591.3 587.6,593.8 C588.8,596.3 591.4,605.1 592.1,607.9 C592.8,610.7 594.4,620.7 594.7,622.1" fill="none" stroke="#e874d2" stroke-width="1.1" stroke-linejoin="round"/>
<path d="M291.5,613.2 C291.7,611.6 292.9,599.8 293.3,597.4 C293.7,595.0 294.7,590.3 295.1,589.4 C295.5,588.5 297.2,588.5 297.7,588.5 C298.2,588.5 299.8,589.8 300.4,589.4 C301.0,589.0 303.2,584.5 303.9,584.1 C304.6,583.8 306.5,586.7 307.4,585.9 C308.3,585.1 311.6,576.9 312.7,576.2 C313.8,575.5 316.9,578.6 318.0,578.8 C319.1,579.0 322.2,577.7 323.3,577.9 C324.4,578.1 327.2,580.4 328.6,580.6 C330.0,580.8 336.2,579.6 337.4,579.7 C338.6,579.8 340.0,581.0 340.9,581.5 C341.8,582.0 345.0,584.9 346.2,585.0 C347.4,585.1 352.1,582.9 353.3,582.4 C354.5,581.9 357.4,580.6 358.6,579.7 C359.8,578.8 364.4,573.2 365.6,573.5 C366.8,573.8 369.7,582.1 370.9,582.4 C372.1,582.7 376.4,576.9 378.0,576.2 C379.6,575.5 385.4,575.1 386.8,575.3 C388.2,575.5 391.2,577.6 392.1,577.9 C393.0,578.2 394.7,577.2 395.6,577.9 C396.5,578.6 399.6,584.5 400.9,585.0 C402.2,585.5 407.4,583.1 408.8,582.4 C410.2,581.7 413.8,578.2 415.0,577.9 C416.2,577.6 420.1,580.1 421.2,579.7 C422.3,579.3 425.4,574.0 426.5,573.5 C427.6,573.0 430.6,574.3 431.8,574.4 C433.0,574.5 437.5,574.4 438.8,574.4 C440.1,574.4 443.9,574.3 445.0,574.4 C446.1,574.5 448.4,575.1 449.4,575.3 C450.4,575.5 453.6,576.4 454.7,576.2 C455.8,576.0 458.8,573.6 460.0,573.5 C461.2,573.4 465.8,574.6 467.1,575.3 C468.4,576.0 472.1,580.3 473.2,580.6 C474.2,580.9 476.6,578.3 477.6,577.9 C478.6,577.5 481.9,576.2 482.9,576.2 C483.9,576.2 486.5,575.8 487.4,577.9 C488.3,580.0 490.9,594.4 491.8,597.4 C492.7,600.4 495.3,607.9 496.2,607.9 C497.1,607.9 499.6,599.1 500.6,597.4 C501.6,595.7 504.8,592.2 505.9,591.2 C507.0,590.2 510.2,588.4 511.2,587.6 C512.2,586.8 515.1,583.8 516.2,583.6 C517.3,583.4 520.9,585.3 522.4,585.4 C523.9,585.5 529.7,584.5 531.2,584.6 C532.7,584.7 535.8,586.8 537.4,586.8 C539.0,586.8 545.9,584.2 547.1,584.1 C548.3,584.0 548.9,585.0 549.7,585.9 C550.5,586.8 554.0,592.8 555.0,593.5 C556.0,594.2 559.0,593.0 559.4,592.9" fill="none" stroke="#8577de" stroke-width="1.1" stroke-linejoin="round"/>
<rect x="251.5" y="639.3" width="383" height="89.8" fill="none" stroke="#f0f0f0" stroke-width="1.3"/>
<line x1="291.7" y1="650.5" x2="625.6" y2="650.5" stroke="#e8e8e8" stroke-width="1"/>
<text x="288" y="652.9" font-size="6.8" fill="#8f8f8f" text-anchor="end">281.4</text>
<line x1="291.7" y1="667.3" x2="625.6" y2="667.3" stroke="#e8e8e8" stroke-width="1"/>
<text x="288" y="669.7" font-size="6.8" fill="#8f8f8f" text-anchor="end">230.7</text>
<line x1="291.7" y1="684.2" x2="625.6" y2="684.2" stroke="#e8e8e8" stroke-width="1"/>
<text x="288" y="686.6" font-size="6.8" fill="#8f8f8f" text-anchor="end">180.0</text>
<line x1="291.7" y1="701" x2="625.6" y2="701" stroke="#e8e8e8" stroke-width="1"/>
<text x="288" y="703.4" font-size="6.8" fill="#8f8f8f" text-anchor="end">129.3</text>
<line x1="291.7" y1="717.8" x2="625.6" y2="717.8" stroke="#e8e8e8" stroke-width="1"/>
<text x="288" y="720.2" font-size="6.8" fill="#8f8f8f" text-anchor="end">78.6</text>
<line x1="291.7" y1="650.5" x2="291.7" y2="717.8" stroke="#e0e0e0" stroke-width="1"/>
<text x="277.76" y="646.90" font-size="6" fill="#999" font-weight="normal" textLength="10.48" lengthAdjust="spacingAndGlyphs">deg</text>
<text stroke="#2e2e2e" stroke-width="0.2" x="293.62" y="647.20" font-size="7.1" fill="#2e2e2e" font-weight="normal" textLength="49.57" lengthAdjust="spacingAndGlyphs">True Wind Angle</text>
<line x1="291.7" y1="684.2" x2="625.6" y2="684.2" stroke="#8c8c8c" stroke-width="1.1"/>
<path d="M321.5,706.2 C322.5,705.6 329.8,701.6 331.2,700.1 C332.6,698.6 334.7,692.9 335.6,691.2 C336.5,689.5 339.2,683.8 340.1,683.3 C341.0,682.8 343.4,685.2 344.5,685.9 C345.6,686.6 349.7,689.5 351.5,690.0 C353.3,690.5 360.3,690.7 362.1,691.2 C363.9,691.7 368.0,695.1 369.2,695.3 C370.4,695.5 373.1,693.1 374.5,693.0 C375.9,692.9 381.7,694.3 383.3,694.2 C384.9,694.1 389.3,692.1 390.3,692.1 C391.3,692.1 392.1,694.3 393.0,694.2 C393.9,694.1 398.0,691.4 399.2,691.2 C400.4,691.0 404.4,691.7 405.3,692.1 C406.2,692.5 407.2,695.2 407.9,695.3 C408.6,695.4 411.4,693.3 412.4,693.0 C413.4,692.7 416.2,691.9 417.6,692.1 C419.0,692.3 424.9,694.2 426.5,694.8 C428.1,695.4 432.4,697.8 433.5,697.8 C434.6,697.8 436.7,695.7 437.9,695.3 C439.1,694.9 444.0,694.4 445.9,694.2 C447.8,694.0 455.2,692.6 456.5,693.0 C457.8,693.4 457.9,697.4 458.6,697.8 C459.3,698.1 461.9,696.8 463.5,696.5 C465.1,696.2 472.3,695.1 474.1,694.8 C475.9,694.4 480.1,694.1 481.2,693.0 C482.3,691.9 484.0,686.2 484.7,684.2 C485.4,682.2 487.0,672.7 488.2,672.7 C489.4,672.7 495.9,683.1 497.1,684.2 C498.3,685.4 499.2,686.1 500.6,684.2 C502.0,682.3 508.1,667.5 511.2,665.6 C514.3,663.7 528.3,665.6 531.2,665.6 C534.1,665.6 538.5,664.9 540.0,665.1 C541.5,665.3 544.6,667.8 546.2,667.8 C547.8,667.8 554.0,664.1 555.9,665.3 C557.8,666.5 564.4,679.7 565.6,679.8 C566.8,679.9 567.7,667.4 568.2,666.2 C568.7,665.0 569.7,667.4 570.9,667.4 C572.1,667.4 578.4,666.6 580.6,666.5 C582.8,666.4 590.2,664.8 592.9,666.0 C595.5,667.2 605.2,677.1 607.1,678.4 C609.0,679.7 610.2,679.6 611.5,678.9 C612.8,678.1 618.9,673.3 620.3,670.9 C621.7,668.5 625.1,656.3 625.6,654.7" fill="none" stroke="#84cf90" stroke-width="1.1" stroke-linejoin="round"/>
<path d="M315.4,709.4 C315.8,708.7 318.8,703.7 319.8,702.7 C320.8,701.7 324.0,700.3 325.1,699.2 C326.2,698.1 329.4,693.1 330.4,692.1 C331.4,691.1 333.9,689.1 334.8,688.9 C335.7,688.7 338.1,689.7 339.2,690.0 C340.3,690.3 345.1,692.1 346.2,692.1 C347.3,692.1 348.9,691.0 349.8,690.4 C350.7,689.8 353.5,686.9 355.1,686.5 C356.7,686.1 363.8,686.5 365.6,686.8 C367.4,687.1 371.3,689.1 372.7,689.5 C374.1,689.9 378.2,690.1 379.8,690.4 C381.4,690.7 386.8,692.0 388.6,692.1 C390.4,692.2 395.7,691.1 397.4,691.2 C399.1,691.3 403.8,693.0 405.3,693.0 C406.8,693.0 410.8,691.2 412.4,691.2 C414.0,691.2 419.3,693.2 421.2,693.5 C423.1,693.8 429.7,694.2 431.8,694.2 C433.9,694.2 440.3,693.5 442.4,693.5 C444.5,693.5 451.1,694.0 452.9,694.2 C454.7,694.4 458.5,694.9 460.0,695.3 C461.5,695.7 466.1,697.9 467.9,697.9 C469.7,697.9 476.3,695.7 477.6,694.8 C478.9,693.9 480.5,690.9 481.2,688.6 C481.9,686.3 484.0,673.7 484.7,671.8 C485.4,669.9 487.1,669.6 488.2,669.2 C489.3,668.9 493.7,668.7 495.3,668.3 C496.9,667.9 501.6,665.1 504.1,664.8 C506.6,664.5 517.3,665.4 520.0,665.6 C522.7,665.8 528.7,666.4 531.2,666.5 C533.7,666.6 542.5,666.4 545.3,666.5 C548.1,666.6 557.1,667.0 559.4,667.1 C561.7,667.2 566.6,667.7 568.2,667.8 C569.8,667.9 574.1,667.8 575.3,668.3 C576.4,668.8 578.8,671.7 579.7,672.7 C580.6,673.7 583.3,678.0 584.1,678.4 C584.9,678.8 586.9,677.6 587.6,676.2 C588.3,674.8 590.5,666.8 591.2,664.8 C591.9,662.8 594.4,656.8 594.7,655.9" fill="none" stroke="#e874d2" stroke-width="1.1" stroke-linejoin="round"/>
<path d="M291.5,708.9 C291.9,708.1 294.3,701.9 295.1,700.9 C295.9,699.9 298.6,699.6 299.5,699.2 C300.4,698.8 303.1,696.7 303.9,696.5 C304.7,696.3 306.7,697.7 307.4,697.4 C308.1,697.1 310.1,695.1 310.9,693.9 C311.7,692.7 314.5,686.0 315.4,685.1 C316.3,684.2 318.5,684.6 319.8,684.7 C321.1,684.8 327.0,685.9 328.6,685.9 C330.2,685.9 334.4,685.1 335.6,684.7 C336.8,684.4 339.7,682.4 340.9,682.4 C342.1,682.4 346.9,683.9 348.0,684.2 C349.1,684.6 350.6,685.7 351.5,685.9 C352.4,686.1 355.7,685.5 356.8,685.9 C357.9,686.3 360.9,689.7 362.1,689.5 C363.3,689.3 368.0,684.4 369.2,684.2 C370.4,684.0 373.3,687.8 374.5,687.7 C375.7,687.6 380.1,683.6 381.5,683.3 C382.9,682.9 387.0,684.3 388.6,684.2 C390.2,684.1 396.0,682.1 397.4,682.1 C398.8,682.1 401.5,684.8 402.6,684.7 C403.7,684.6 407.5,681.3 408.8,681.2 C410.1,681.1 414.7,682.9 415.9,683.3 C417.1,683.7 420.1,684.7 421.2,685.1 C422.3,685.5 425.4,687.7 426.5,687.7 C427.6,687.7 431.5,684.9 432.6,684.7 C433.7,684.5 435.9,685.2 437.1,685.9 C438.3,686.5 443.6,690.5 445.0,691.2 C446.4,691.9 449.9,692.6 451.2,693.0 C452.5,693.4 456.8,694.7 458.2,694.8 C459.6,694.9 463.4,694.2 465.3,694.2 C467.2,694.2 475.7,695.4 477.6,695.3 C479.5,695.2 483.6,694.2 484.7,693.0 C485.8,691.8 488.4,685.6 489.1,683.3 C489.8,681.0 491.1,672.1 491.8,670.1 C492.5,668.1 495.1,663.5 496.2,663.0 C497.2,662.5 500.6,665.4 502.3,665.6 C504.0,665.8 511.1,665.3 512.9,665.3 C514.7,665.3 519.1,665.2 520.6,665.3 C522.1,665.4 526.2,665.9 527.6,666.5 C529.0,667.1 533.4,670.5 534.7,670.9 C536.0,671.3 539.8,670.2 540.9,670.6 C542.0,671.0 544.4,673.6 545.3,674.5 C546.2,675.4 548.8,679.7 549.7,679.8 C550.6,679.9 553.1,676.2 554.1,675.4 C555.1,674.6 558.9,671.9 559.4,671.5" fill="none" stroke="#8577de" stroke-width="1.1" stroke-linejoin="round"/>
<text x="291.9" y="727" font-size="7" fill="#999" text-anchor="middle">21:19</text>
<text x="358.6" y="727" font-size="7" fill="#999" text-anchor="middle">21:20</text>
<text x="425" y="727" font-size="7" fill="#999" text-anchor="middle">21:22</text>
<text x="491.8" y="727" font-size="7" fill="#999" text-anchor="middle">21:23</text>
<text x="558.5" y="727" font-size="7" fill="#999" text-anchor="middle">21:24</text>
<text x="625.4" y="727" font-size="7" fill="#999" text-anchor="middle">21:26</text>
<text x="39.10" y="929.70" font-size="7.5" fill="#777" font-weight="normal" textLength="58.80" lengthAdjust="spacingAndGlyphs">chartedsails.com</text>
<text x="596.70" y="929.70" font-size="7.5" fill="#777" font-weight="normal" textLength="47.10" lengthAdjust="spacingAndGlyphs">Page 11 of 19</text>
</svg>
</body></html>
